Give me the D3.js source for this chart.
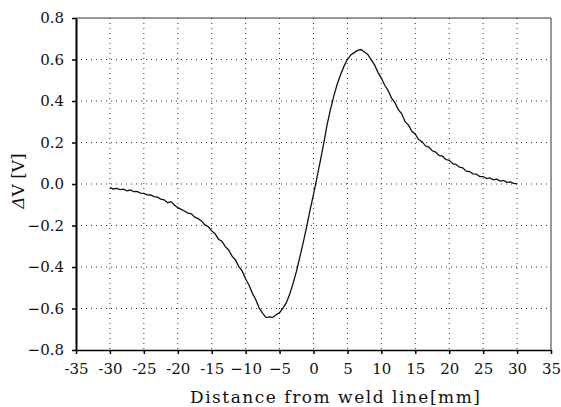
<!DOCTYPE html>
<html><head><meta charset="utf-8">
<script src="https://cdn.jsdelivr.net/npm/d3@7"></script>
<style>body{margin:0;background:#fff}svg{display:block}</style>
</head><body>
<svg id="c" width="561" height="407"></svg>
<script>
// data (distance mm, ΔV in V)
const xStart = -30, xStep = 0.5;
const dV = [
-0.018,-0.024,-0.021,-0.027,-0.025,-0.033,-0.029,-0.037,-0.036,-0.044,
-0.045,-0.052,-0.053,-0.061,-0.063,-0.073,-0.076,-0.090,-0.085,-0.101,
-0.114,-0.122,-0.130,-0.140,-0.144,-0.160,-0.167,-0.178,-0.197,-0.206,
-0.226,-0.240,-0.266,-0.276,-0.302,-0.318,-0.348,-0.366,-0.398,-0.420,
-0.458,-0.488,-0.527,-0.558,-0.598,-0.622,-0.644,-0.640,-0.643,-0.630,
-0.620,-0.598,-0.572,-0.530,-0.478,-0.420,-0.350,-0.280,-0.205,-0.125,
-0.050,0.030,0.110,0.195,0.285,0.360,0.425,0.482,0.528,0.568,
0.600,0.622,0.633,0.644,0.648,0.636,0.624,0.598,0.574,0.538,
0.510,0.476,0.450,0.414,0.392,0.358,0.338,0.300,0.284,0.254,
0.240,0.214,0.204,0.184,0.178,0.160,0.154,0.138,0.134,0.118,
0.114,0.098,0.095,0.081,0.078,0.062,0.060,0.049,0.048,0.036,
0.036,0.026,0.029,0.020,0.023,0.014,0.017,0.008,0.010,0.003,
0.001];
const xTicks = [-35,-30,-25,-20,-15,-10,-5,0,5,10,15,20,25,30,35];
const xTickLabels = ["-35","-30","-25","-20","-15","\u221210","\u22125","0","5","10","15","20","25","30","35"];
const yTicks = [0.8,0.6,0.4,0.2,0.0,-0.2,-0.4,-0.6,-0.8];
const yTickLabels = ["0.8","0.6","0.4","0.2","0.0","\u22120.2","\u22120.4","\u22120.6","\u22120.8"];
const xTitle = "Distance from weld line[mm]";

const svg = d3.select("#c");
const L = 76, R = 551, T = 18, B = 350;
const x = d3.scaleLinear().domain([-35,35]).range([L,R]);
const y = d3.scaleLinear().domain([-0.8,0.8]).range([B,T]);
const font = "'DejaVu Serif', 'Liberation Serif', serif";

// grid
const g = svg.append("g");
g.selectAll("line.vx").data(xTicks.slice(1,-1)).join("line")
  .attr("x1",d=>x(d)).attr("x2",d=>x(d)).attr("y1",T).attr("y2",B)
  .attr("stroke","#333").attr("stroke-width",1).attr("stroke-dasharray","1,4");
g.selectAll("line.hy").data(yTicks.slice(1,-1)).join("line")
  .attr("y1",d=>y(d)).attr("y2",d=>y(d)).attr("x1",L).attr("x2",R)
  .attr("stroke","#333").attr("stroke-width",1).attr("stroke-dasharray","1,4");

// frame top/right
svg.append("line").attr("x1",L).attr("x2",R).attr("y1",T).attr("y2",T).attr("stroke","#333").attr("stroke-width",1);
svg.append("line").attr("x1",R).attr("x2",R).attr("y1",T).attr("y2",B).attr("stroke","#333").attr("stroke-width",1);

// axes
const xa = svg.append("g").attr("transform",`translate(0,${B})`)
  .call(d3.axisBottom(x).tickValues(xTicks).tickFormat((d,i)=>xTickLabels[i]).tickSize(4).tickSizeOuter(0).tickPadding(9));
xa.select(".domain").attr("stroke","#000").attr("stroke-width",1.5);
xa.selectAll(".tick line").attr("stroke","#000").attr("stroke-width",1.5);
xa.selectAll("text").attr("font-family",font).attr("font-size",15).attr("fill","#111");

const ya = svg.append("g").attr("transform",`translate(${L},0)`)
  .call(d3.axisLeft(y).tickValues(yTicks).tickFormat((d,i)=>yTickLabels[i]).tickSize(4).tickSizeOuter(0).tickPadding(8));
ya.select(".domain").attr("stroke","#000").attr("stroke-width",2);
ya.selectAll(".tick line").attr("stroke","#000").attr("stroke-width",1.5);
ya.selectAll("text").attr("font-family",font).attr("font-size",15).attr("fill","#111");

// curve
const pts = dV.map((v,i)=>[xStart + i*xStep, v]);
svg.append("path").datum(pts)
  .attr("d", d3.line().x(d=>x(d[0])).y(d=>y(d[1])))
  .attr("fill","none").attr("stroke","#111").attr("stroke-width",1.3);

// titles
svg.append("text").attr("x",190).attr("y",403).attr("text-anchor","start")
  .attr("textLength",290).attr("lengthAdjust","spacing")
  .attr("font-family",font).attr("font-size",17).attr("fill","#111").text(xTitle);
const yl = svg.append("text").attr("transform","translate(24,181) rotate(-90)")
  .attr("text-anchor","middle").attr("font-family",font).attr("font-size",17).attr("fill","#111");
yl.append("tspan").attr("font-style","italic").text("\u0394");
yl.append("tspan").text("V [V]");
</script>
</body></html>
